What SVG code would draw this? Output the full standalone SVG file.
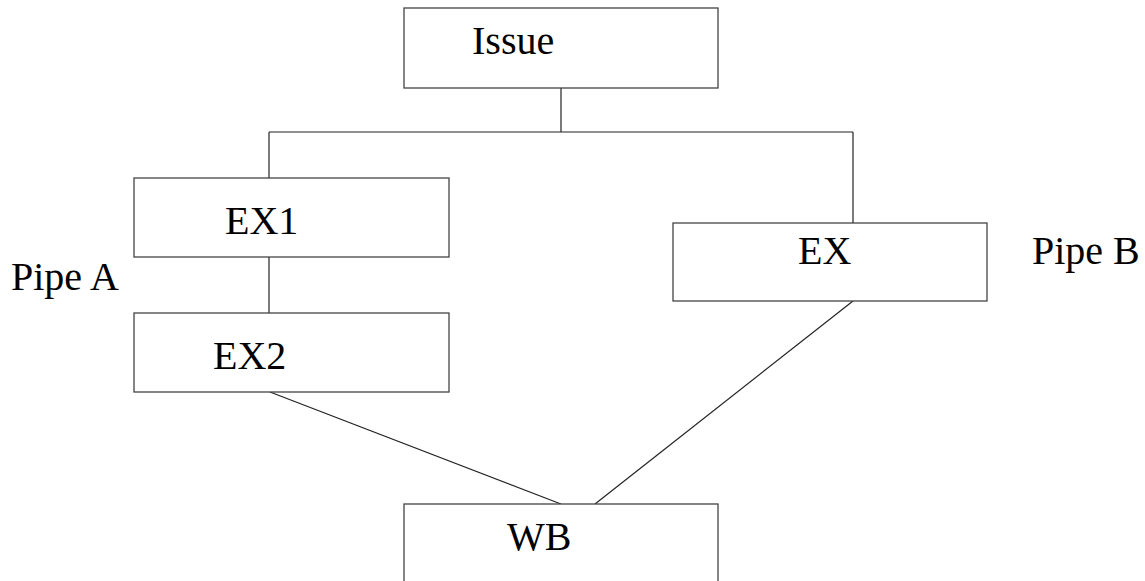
<svg xmlns="http://www.w3.org/2000/svg" width="1145" height="581" viewBox="0 0 1145 581">
<style>
.box{fill:#fff;stroke:#444;stroke-width:1.3}
.lbl{font-family:"Liberation Serif","Times New Roman",serif;font-size:40px;fill:#000}
.ln{stroke:#222;stroke-width:1.2;fill:none}
</style>
<rect width="1145" height="581" fill="#fff"/>
<g id="connectors">
<line class="ln" x1="561" y1="88" x2="561" y2="132"/>
<line class="ln" x1="269" y1="132" x2="853" y2="132"/>
<line class="ln" x1="269" y1="132" x2="269" y2="178"/>
<line class="ln" x1="853" y1="132" x2="853" y2="223"/>
<line class="ln" x1="269" y1="257" x2="269" y2="313"/>
<line class="ln" x1="270" y1="392" x2="561" y2="504"/>
<line class="ln" x1="853" y1="301" x2="595" y2="504"/>
</g>
<g id="issue">
<rect class="box" x="404" y="8" width="314" height="80"/>
<text class="lbl" x="472" y="54">Issue</text>
</g>
<g id="ex1">
<rect class="box" x="134" y="178" width="315" height="79"/>
<text class="lbl" x="225" y="234">EX1</text>
</g>
<g id="ex2">
<rect class="box" x="134" y="313" width="315" height="79"/>
<text class="lbl" x="213" y="369">EX2</text>
</g>
<g id="ex">
<rect class="box" x="673" y="223" width="314" height="78"/>
<text class="lbl" x="798" y="264">EX</text>
</g>
<g id="wb">
<rect class="box" x="404" y="504" width="314" height="110"/>
<text class="lbl" x="507" y="550">WB</text>
</g>
<g id="pipe-a">
<text class="lbl" x="11" y="290">Pipe A</text>
</g>
<g id="pipe-b">
<text class="lbl" x="1032" y="264">Pipe B</text>
</g>
</svg>
